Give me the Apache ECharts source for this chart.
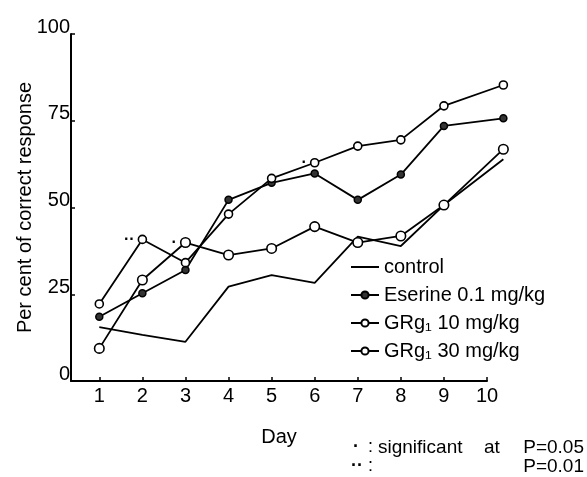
<!DOCTYPE html>
<html>
<head>
<meta charset="utf-8">
<script src="https://cdn.jsdelivr.net/npm/echarts@6/dist/echarts.min.js"></script>
<style>
html, body { margin: 0; padding: 0; background: #fff; }
#chart { width: 587px; height: 477px; }
</style>
</head>
<body>
<div id="chart"></div>
<script>
const days = [1, 2, 3, 4, 5, 6, 7, 8, 9, 10]
// x position of the points; in the figure the day 10 points sit past the last tick
const dayPos = [1, 2, 3, 4, 5, 6, 7, 8, 9, 10.38]

const control = [15.5, 13.3, 11.3, 27.2, 30.5, 28.3, 41.6, 38.9, 50.7, 63.9]
const eserine = [18.5, 25.3, 32.0, 52.2, 57.1, 59.8, 52.2, 59.5, 73.5, 75.7]
const grg10 = [22.2, 40.8, 34.1, 48.1, 58.4, 62.9, 67.7, 69.5, 79.3, 85.3]
const grg30 = [9.4, 29.1, 39.9, 36.3, 38.2, 44.5, 39.9, 41.8, 50.7, 66.8]

// significance dots next to points
const grg10Sig = ['', '··', '', '', '', '·', '', '', '', '']
const grg30Sig = ['', '', '·', '', '', '', '', '', '', '']

const FONT = "'Liberation Sans', 'DejaVu Sans', sans-serif"

const W = 587
const gridLeft = 71
const gridRight = 100
const xMin = 0.343
const xMax = 10
// the lines get clipped to their grid, so the data lives in a second, wider
// grid that has the same scale as the visible axis
const pxPerDay = (W - gridLeft - gridRight) / (xMax - xMin)
const dataMax = Math.max(...dayPos)
const dataRight = W - gridLeft - (dataMax - xMin) * pxPerDay

function toData (values, sig) {
    return values.map((v, i) => {
        const item = { value: [dayPos[i], v] }
        if (sig && sig[i]) {
            item.label = {
                show: true,
                position: 'left',
                distance: 3,
                formatter: sig[i],
                fontSize: 16,
                fontWeight: 'bold',
                color: '#000',
                fontFamily: FONT
            }
        }
        return item
    })
}

const lineStyle = { color: '#000', width: 1.8 }

const chart = echarts.init(document.getElementById('chart'))
chart.setOption({
    animation: false,
    textStyle: { fontFamily: FONT, color: '#000' },
    grid: [
        { left: gridLeft, right: gridRight, top: 34, bottom: 96 },
        { left: gridLeft, right: dataRight, top: 34, bottom: 96 }
    ],
    legend: {
        orient: 'vertical',
        left: 345,
        top: 252,
        itemWidth: 28,
        itemHeight: 9,
        itemGap: 8,
        textStyle: { fontSize: 20, lineHeight: 20, color: '#000', fontFamily: FONT },
        data: [
            { name: 'control', itemStyle: { opacity: 0 } },
            'Eserine 0.1 mg/kg',
            'GRg\u2081 10 mg/kg',
            'GRg\u2081 30 mg/kg'
        ]
    },
    xAxis: [
        {
            type: 'value',
            gridIndex: 0,
            min: xMin,
            max: xMax,
            name: 'Day',
            nameLocation: 'middle',
            nameGap: 46,
            nameMoveOverlap: false,
            nameTextStyle: { fontSize: 20, color: '#000' },
            axisLine: { show: true, lineStyle: { color: '#000', width: 2 } },
            axisTick: { show: true, inside: true, length: 4, customValues: days, lineStyle: { color: '#000', width: 1.5 } },
            axisLabel: { customValues: days, fontSize: 20, margin: 5, color: '#000' },
            splitLine: { show: false }
        },
        {
            type: 'value',
            gridIndex: 1,
            min: xMin,
            max: dataMax,
            show: false
        }
    ],
    yAxis: [
        {
            type: 'value',
            gridIndex: 0,
            min: 0,
            max: 100,
            interval: 25,
            name: 'Per cent of correct response',
            nameLocation: 'middle',
            nameRotate: 90,
            nameGap: 36,
            nameMoveOverlap: false,
            nameTextStyle: { fontSize: 20, color: '#000' },
            axisLine: { show: true, lineStyle: { color: '#000', width: 2 } },
            axisTick: { show: true, inside: true, length: 4, lineStyle: { color: '#000', width: 1.5 } },
            axisLabel: { fontSize: 20, margin: 1, verticalAlign: 'bottom', lineHeight: 14, color: '#000' },
            splitLine: { show: false }
        },
        {
            type: 'value',
            gridIndex: 1,
            min: 0,
            max: 100,
            show: false
        }
    ],
    series: [
        {
            name: 'control',
            type: 'line',
            xAxisIndex: 1,
            yAxisIndex: 1,
            symbol: 'none',
            lineStyle: lineStyle,
            itemStyle: { color: '#000' },
            data: toData(control)
        },
        {
            name: 'Eserine 0.1 mg/kg',
            type: 'line',
            xAxisIndex: 1,
            yAxisIndex: 1,
            symbol: 'circle',
            symbolSize: 7,
            lineStyle: lineStyle,
            itemStyle: { color: '#333', borderColor: '#000', borderWidth: 1.5 },
            data: toData(eserine)
        },
        {
            name: 'GRg\u2081 10 mg/kg',
            type: 'line',
            xAxisIndex: 1,
            yAxisIndex: 1,
            symbol: 'circle',
            symbolSize: 8,
            lineStyle: lineStyle,
            itemStyle: { color: '#fff', borderColor: '#000', borderWidth: 1.6 },
            data: toData(grg10, grg10Sig)
        },
        {
            name: 'GRg\u2081 30 mg/kg',
            type: 'line',
            xAxisIndex: 1,
            yAxisIndex: 1,
            symbol: 'circle',
            symbolSize: 9.5,
            lineStyle: lineStyle,
            itemStyle: { color: '#fff', borderColor: '#000', borderWidth: 1.6 },
            data: toData(grg30, grg30Sig)
        }
    ],
    graphic: [
        { type: 'text', left: 353, top: 438, style: { text: '·', fontSize: 18, fontWeight: 'bold', fontFamily: FONT, fill: '#000' } },
        { type: 'text', left: 368, top: 438, style: { text: ':', fontSize: 18, fontFamily: FONT, fill: '#000' } },
        { type: 'text', left: 378, top: 438, style: { text: 'significant', fontSize: 19, fontFamily: FONT, fill: '#000' } },
        { type: 'text', left: 484, top: 438, style: { text: 'at', fontSize: 19, fontFamily: FONT, fill: '#000' } },
        { type: 'text', right: 3, top: 438, style: { text: 'P=0.05', fontSize: 19, fontFamily: FONT, fill: '#000' } },
        { type: 'text', left: 351, top: 457, style: { text: '··', fontSize: 18, fontWeight: 'bold', fontFamily: FONT, fill: '#000' } },
        { type: 'text', left: 368, top: 457, style: { text: ':', fontSize: 18, fontFamily: FONT, fill: '#000' } },
        { type: 'text', right: 3, top: 457, style: { text: 'P=0.01', fontSize: 19, fontFamily: FONT, fill: '#000' } }
    ]
})
</script>
</body>
</html>
